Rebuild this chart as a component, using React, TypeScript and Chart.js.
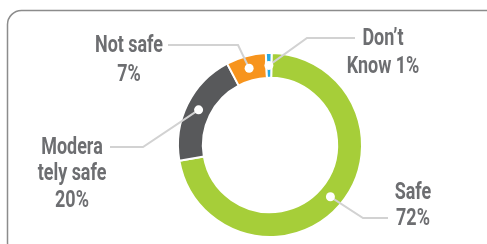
import React, { useEffect, useRef } from 'react';
import { Chart, registerables } from 'chart.js';

Chart.register(...registerables);

const categories = ['Safe', 'Moderately safe', 'Not safe', 'Don’t Know'];
const values = [72, 20, 7, 1];
const colors = ['#a6ce39', '#58595b', '#f7941d', '#27aae1'];
// how each label is wrapped; the percent is appended to the last line
const labelWrap = [['Safe', ''], ['Modera', 'tely safe', ''], ['Not safe', ''], ['Don’t', 'Know ']];

// label layout relative to the chart centre (elbow, end of horizontal, text centre, row y)
const labelLayout = [
  { ex: 93, ey: 73, endX: 118, tx: 143, rows: [47, 73] },
  { ex: -127, ey: 2, endX: -160, tx: -198, rows: [2, 28, 55] },
  { ex: -32, ey: -100, endX: -102, tx: -141, rows: [-100, -71] },
  { ex: 37, ey: -107, endX: 85, tx: 113, rows: [-107, -79] },
];

const FONT = 'bold 23px Roboto, "Liberation Sans", sans-serif';
const TEXT_SX = 0.78; // condensed look

const framePlugin = {
  id: 'frame',
  beforeDraw(chart: any) {
    const ctx = chart.ctx;
    ctx.save();
    ctx.strokeStyle = '#8c8c8c';
    ctx.lineWidth = 1.5;
    ctx.beginPath();
    (ctx as any).roundRect(7.5, 10.5, 492, 246, 14);
    ctx.stroke();
    ctx.restore();
  },
};

const labelPlugin = {
  id: 'leaderLabels',
  afterDatasetsDraw(chart: any) {
    const ctx = chart.ctx;
    const meta = chart.getDatasetMeta(0);
    ctx.save();
    meta.data.forEach((arc: any, i: number) => {
      const cx = arc.x;
      const cy = arc.y;
      const a = (arc.startAngle + arc.endAngle) / 2;
      const r = (arc.innerRadius + arc.outerRadius) / 2;
      const dx = cx + Math.cos(a) * r;
      const dy = cy + Math.sin(a) * r;
      const L = labelLayout[i];
      ctx.strokeStyle = '#d2d2d2';
      ctx.lineWidth = 2;
      ctx.beginPath();
      ctx.moveTo(dx, dy);
      ctx.lineTo(cx + L.ex, cy + L.ey);
      ctx.lineTo(cx + L.endX, cy + L.ey);
      ctx.stroke();
      ctx.fillStyle = '#ffffff';
      ctx.beginPath();
      ctx.arc(dx, dy, 4.5, 0, Math.PI * 2);
      ctx.fill();
      const lines = labelWrap[i].slice();
      lines[lines.length - 1] = lines[lines.length - 1] + values[i] + '%';
      ctx.fillStyle = '#6d6e71';
      ctx.font = FONT;
      ctx.textAlign = 'center';
      ctx.textBaseline = 'middle';
      lines.forEach((t, j) => {
        ctx.save();
        ctx.translate(cx + L.tx, cy + L.rows[j] + 1);
        ctx.scale(TEXT_SX, 1);
        ctx.fillText(t, 0, 0);
        ctx.restore();
      });
    });
    ctx.restore();
  },
};

export default function App() {
  const ref = useRef<HTMLCanvasElement | null>(null);
  useEffect(() => {
    document.body.style.margin = '0';
    const chart = new Chart(ref.current as HTMLCanvasElement, {
      type: 'doughnut',
      data: {
        labels: categories,
        datasets: [
          {
            data: values,
            backgroundColor: colors,
            borderColor: '#ffffff',
            borderWidth: 2,
          },
        ],
      },
      options: {
        animation: false,
        responsive: false,
        rotation: 1,
        cutout: '73%',
        layout: { padding: { left: 177, right: 124, top: 52, bottom: 6 } },
        plugins: { legend: { display: false }, tooltip: { enabled: false } },
      },
      plugins: [framePlugin, labelPlugin],
    });
    return () => chart.destroy();
  }, []);
  return (
    <div style={{ width: 487, height: 244, background: '#fff' }}>
      <canvas ref={ref} width={487} height={244} style={{ display: 'block' }} />
    </div>
  );
}
